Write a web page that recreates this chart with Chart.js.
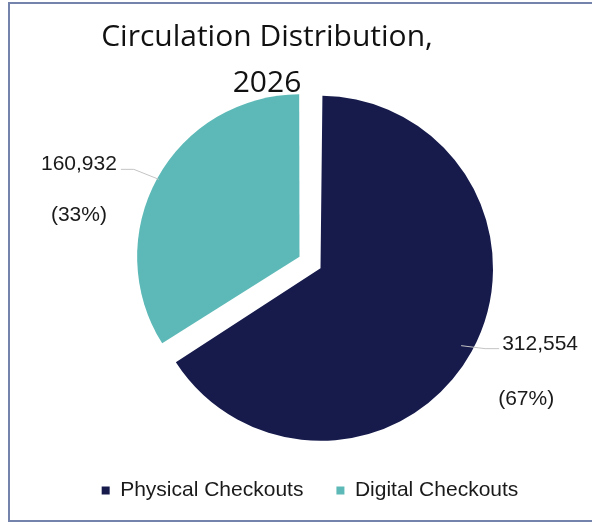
<!DOCTYPE html>
<html>
<head>
<meta charset="utf-8">
<script src="https://cdn.jsdelivr.net/npm/chart.js@4.4.1/dist/chart.umd.min.js"></script>
<style>
    html, body { margin: 0; padding: 0; background: #fff; overflow: hidden; }
    body { width: 592px; height: 527px; position: relative; }
    #frame {
        position: absolute; left: 8px; top: 2px; width: 700px; height: 520px;
        border: 2px solid #7483ab; box-sizing: border-box;
    }
    #title {
        position: absolute; left: 0; top: 12px; width: 534px; text-align: center;
        font-family: "Open Sans", sans-serif; font-size: 30px; line-height: 46px; color: #111;
    }
    #wrap { position: absolute; left: 0; top: 0; width: 592px; height: 511px; }
</style>
</head>
<body>
<div id="frame"></div>
<div id="wrap"><canvas id="myChart"></canvas></div>
<div id="title">Circulation Distribution,<br>2026</div>
<script>
const categories = ["Physical Checkouts", "Digital Checkouts"];
const checkouts = [312554, 160932];
const percentLabels = ["(67%)", "(33%)"];
const sliceColors = ["#161b4c", "#5cb9b7"];

const ctx = document.getElementById("myChart");

// leader lines + value labels outside the slices
const outsideLabels = {
    id: "outsideLabels",
    afterDatasetsDraw(chart) {
        const c = chart.ctx;
        const meta = chart.getDatasetMeta(0);
        meta.data.forEach((arc, i) => {
            const p = arc.getProps(["x", "y", "startAngle", "endAngle", "outerRadius"]);
            const mid = (p.startAngle + p.endAngle) / 2;
            const off = (arc.options.offset || 0) / 4; // v4 draws offset/4
            const dx = Math.cos(mid), dy = Math.sin(mid);
            const cx = p.x + dx * off, cy = p.y + dy * off;
            const left = dx < 0;
            const x0 = cx + dx * p.outerRadius, y0 = cy + dy * p.outerRadius;
            const x1 = left ? x0 - 25 : x0 + 24;
            const y1 = left ? y0 - 10 : y0 + 3;
            const x2 = left ? x1 - 13 : x1 + 14;

            c.save();
            c.strokeStyle = "#c4c4c4";
            c.lineWidth = 1;
            c.beginPath();
            c.moveTo(x0, y0);
            c.lineTo(x1, y1);
            c.lineTo(x2, y1);
            c.stroke();

            c.fillStyle = "#1a1a1a";
            c.font = '21px "Liberation Sans", Arial, sans-serif';
            c.textBaseline = "alphabetic";
            const valueText = checkouts[i].toLocaleString("en-US");
            const w = c.measureText(valueText).width;
            if (left) {
                c.textAlign = "right";
                c.fillText(valueText, x2 - 4, y1 + 1);
                c.textAlign = "center";
                c.fillText(percentLabels[i], x2 - 4 - w / 2, y1 + 52);
            } else {
                c.textAlign = "left";
                c.fillText(valueText, x2 + 3, y1 + 1);
                c.fillText(percentLabels[i], x2 - 1, y1 + 56);
            }
            c.restore();
        });
    },
};

new Chart(ctx, {
    type: "pie",
    data: {
        labels: categories,
        datasets: [
            {
                data: checkouts,
                backgroundColor: sliceColors,
                borderWidth: 0,
                offset: 48,
            },
        ],
    },
    options: {
        responsive: true,
        maintainAspectRatio: false,
        animation: false,
        layout: { padding: { left: 28, top: 78, right: 0, bottom: 0 } },
        plugins: {
            tooltip: { enabled: false },
            legend: {
                position: "bottom",
                labels: {
                    boxWidth: 8,
                    boxHeight: 8,
                    padding: 33,
                    color: "#1a1a1a",
                    font: { family: '"Liberation Sans", Arial, sans-serif', size: 21 },
                },
            },
        },
    },
    plugins: [outsideLabels],
});
</script>
</body>
</html>
